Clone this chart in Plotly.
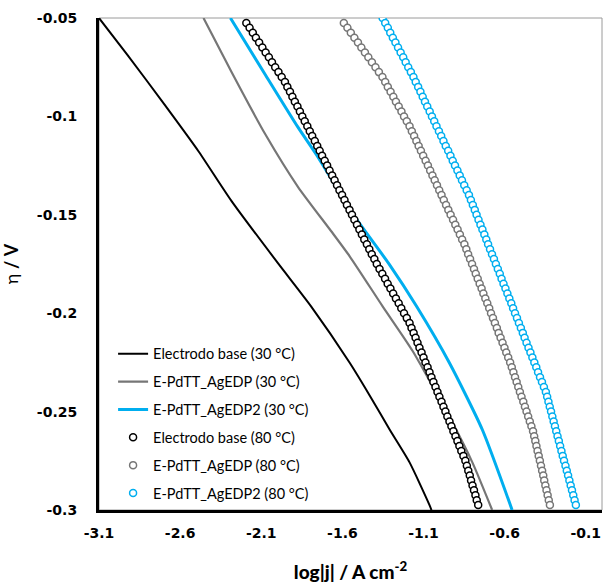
import plotly.graph_objects as go

# ---- data ----
# overpotential grid of the 80 °C measurements (V)
ETA_80 = [
    -0.05, -0.0525, -0.055, -0.0575, -0.06, -0.0625, -0.065, -0.0675, -0.07, -0.0725,
    -0.075, -0.0775, -0.08, -0.0825, -0.085, -0.0875, -0.09, -0.0925, -0.095, -0.0975,
    -0.1, -0.1025, -0.105, -0.1075, -0.11, -0.1125, -0.115, -0.1175, -0.12, -0.1225,
    -0.125, -0.1275, -0.13, -0.1325, -0.135, -0.1375, -0.14, -0.1425, -0.145, -0.1475,
    -0.15, -0.1525, -0.155, -0.1575, -0.16, -0.1625, -0.165, -0.1675, -0.17, -0.1725,
    -0.175, -0.1775, -0.18, -0.1825, -0.185, -0.1875, -0.19, -0.1925, -0.195, -0.1975,
    -0.2, -0.2025, -0.205, -0.2075, -0.21, -0.2125, -0.215, -0.2175, -0.22, -0.2225,
    -0.225, -0.2275, -0.23, -0.2325, -0.235, -0.2375, -0.24, -0.2425, -0.245, -0.2475,
    -0.25, -0.2525, -0.255, -0.2575, -0.26, -0.2625, -0.265, -0.2675, -0.27, -0.2725,
    -0.275, -0.2775, -0.28, -0.2825, -0.285, -0.2875, -0.29, -0.2925, -0.295, -0.2975,
]

# Electrodo base (80 °C): log|j| for ETA_80[1:]
BASE_80 = [
    -2.192, -2.172, -2.152, -2.133, -2.113, -2.093, -2.073, -2.053, -2.034, -2.014,
    -1.994, -1.974, -1.954, -1.939, -1.923, -1.908, -1.893, -1.877, -1.862, -1.847,
    -1.832, -1.816, -1.801, -1.786, -1.770, -1.755, -1.740, -1.725, -1.709, -1.694,
    -1.679, -1.663, -1.648, -1.633, -1.618, -1.602, -1.587, -1.572, -1.556, -1.541,
    -1.526, -1.510, -1.495, -1.480, -1.465, -1.449, -1.434, -1.419, -1.403, -1.388,
    -1.371, -1.354, -1.337, -1.321, -1.304, -1.287, -1.270, -1.253, -1.237, -1.220,
    -1.203, -1.186, -1.174, -1.161, -1.149, -1.137, -1.125, -1.112, -1.100, -1.088,
    -1.075, -1.063, -1.051, -1.039, -1.026, -1.014, -1.002, -0.989, -0.977, -0.965,
    -0.953, -0.940, -0.928, -0.916, -0.903, -0.891, -0.879, -0.867, -0.854, -0.842,
    -0.833, -0.824, -0.815, -0.807, -0.798, -0.789, -0.780, -0.772, -0.763,
]

# E-PdTT_AgEDP (80 °C): log|j| for ETA_80[1:]
EDP_80 = [
    -1.591, -1.569, -1.548, -1.526, -1.504, -1.483, -1.461, -1.440, -1.418, -1.396,
    -1.375, -1.353, -1.336, -1.320, -1.303, -1.286, -1.270, -1.253, -1.236, -1.220,
    -1.203, -1.186, -1.172, -1.158, -1.144, -1.130, -1.116, -1.102, -1.087, -1.073,
    -1.059, -1.045, -1.031, -1.017, -1.003, -0.989, -0.975, -0.961, -0.947, -0.933,
    -0.918, -0.904, -0.890, -0.876, -0.862, -0.848, -0.836, -0.825, -0.813, -0.801,
    -0.789, -0.778, -0.766, -0.754, -0.742, -0.731, -0.719, -0.707, -0.695, -0.684,
    -0.672, -0.660, -0.648, -0.637, -0.625, -0.613, -0.601, -0.590, -0.578, -0.566,
    -0.556, -0.546, -0.536, -0.526, -0.516, -0.506, -0.496, -0.485, -0.475, -0.465,
    -0.455, -0.445, -0.435, -0.425, -0.418, -0.411, -0.404, -0.397, -0.390, -0.383,
    -0.376, -0.369, -0.362, -0.356, -0.349, -0.342, -0.335, -0.328, -0.321,
]

# E-PdTT_AgEDP2 (80 °C): log|j| for ETA_80
EDP2_80 = [
    -1.352, -1.336, -1.320, -1.305, -1.289, -1.273, -1.257, -1.241, -1.225, -1.210,
    -1.194, -1.178, -1.162, -1.148, -1.133, -1.119, -1.105, -1.091, -1.077, -1.062,
    -1.048, -1.034, -1.020, -1.005, -0.991, -0.977, -0.963, -0.948, -0.934, -0.920,
    -0.906, -0.891, -0.877, -0.863, -0.849, -0.834, -0.820, -0.808, -0.796, -0.784,
    -0.773, -0.761, -0.749, -0.737, -0.725, -0.713, -0.702, -0.690, -0.678, -0.666,
    -0.654, -0.642, -0.630, -0.619, -0.607, -0.595, -0.583, -0.571, -0.559, -0.548,
    -0.536, -0.524, -0.512, -0.500, -0.488, -0.477, -0.465, -0.453, -0.441, -0.429,
    -0.417, -0.405, -0.394, -0.382, -0.370, -0.358, -0.346, -0.338, -0.330, -0.322,
    -0.314, -0.306, -0.298, -0.290, -0.282, -0.274, -0.266, -0.258, -0.250, -0.242,
    -0.234, -0.225, -0.217, -0.209, -0.201, -0.193, -0.185, -0.177, -0.169, -0.161,
]

# 30 °C curves (lines)
BASE_30_X = [-3.100, -2.925, -2.697, -2.487, -2.284, -1.996, -1.793, -1.554, -1.431, -1.309, -1.186, -1.063, -1.051]
BASE_30_Y = [-0.050, -0.0687, -0.0939, -0.1177, -0.1429, -0.1747, -0.1965, -0.2253, -0.2419, -0.2591, -0.2758, -0.2975, -0.300]

EDP_30_X = [-2.456, -2.284, -2.075, -1.873, -1.671, -1.554, -1.352, -1.167, -0.922, -0.799, -0.677]
EDP_30_Y = [-0.050, -0.0773, -0.1091, -0.1359, -0.1581, -0.1712, -0.1965, -0.2192, -0.2556, -0.2758, -0.300]

EDP2_30_X = [-2.290, -2.075, -1.873, -1.750, -1.536, -1.315, -1.143, -0.940, -0.738, -0.554]
EDP2_30_Y = [-0.050, -0.0788, -0.1056, -0.1207, -0.1495, -0.1747, -0.1965, -0.2253, -0.2591, -0.300]

X_TICKS = [-3.1, -2.6, -2.1, -1.6, -1.1, -0.6, -0.1]
X_TICK_TEXT = ["-3.1", "-2.6", "-2.1", "-1.6", "-1.1", "-0.6", "-0.1"]
Y_TICKS = [-0.05, -0.1, -0.15, -0.2, -0.25, -0.3]
Y_TICK_TEXT = ["-0.05", "-0.1", "-0.15", "-0.2", "-0.25", "-0.3"]

NAMES = [
    "Electrodo base (30 °C)", "E-PdTT_AgEDP (30 °C)", "E-PdTT_AgEDP2 (30 °C)",
    "Electrodo base (80 °C)", "E-PdTT_AgEDP (80 °C)", "E-PdTT_AgEDP2 (80 °C)",
]

BLACK = "#000000"
GRAY = "#767676"
BLUE = "#00aeef"
FONT = "Lato"
TICKFONT = "DejaVu Sans"

fig = go.Figure()

fig.add_trace(go.Scatter(x=BASE_30_X, y=BASE_30_Y, mode="lines", name=NAMES[0],
                         legendgroup="g0",
                         line=dict(color=BLACK, width=2, shape="spline", smoothing=0.6)))
fig.add_trace(go.Scatter(x=EDP_30_X, y=EDP_30_Y, mode="lines", name=NAMES[1],
                         legendgroup="g1",
                         line=dict(color=GRAY, width=2.2, shape="spline", smoothing=0.6)))
fig.add_trace(go.Scatter(x=EDP2_30_X, y=EDP2_30_Y, mode="lines", name=NAMES[2],
                         legendgroup="g2",
                         line=dict(color=BLUE, width=3, shape="spline", smoothing=0.6)))

for i, (xs, ys, col) in enumerate([
    (BASE_80, ETA_80[1:], BLACK),
    (EDP_80, ETA_80[1:], GRAY),
    (EDP2_80, ETA_80, BLUE),
]):
    fig.add_trace(go.Scatter(
        x=xs, y=ys, mode="markers", name=NAMES[3 + i], legendgroup=f"g{3 + i}",
        marker=dict(symbol="circle", size=7, color="white",
                    line=dict(color=col, width=1.5)),
    ))

fig.update_layout(
    width=605, height=583,
    margin=dict(l=99, r=3, t=18, b=70),
    paper_bgcolor="white", plot_bgcolor="white",
    font=dict(family=FONT, color="black"),
    showlegend=True,
    legend=dict(
        x=0.028, y=0.35, xanchor="left", yanchor="top",
        bgcolor="rgba(0,0,0,0)", borderwidth=0,
        font=dict(family=FONT, size=14.5, color="black"),
        tracegroupgap=6, itemwidth=30,
    ),
    xaxis=dict(
        range=[-3.1, 0], tickvals=X_TICKS, ticktext=X_TICK_TEXT,
        showgrid=False, zeroline=False, showline=True, linecolor="black", linewidth=3,
        ticks="", ticklabelstandoff=8,
        tickfont=dict(family=TICKFONT, size=14, weight="bold"),
        title=dict(text="log|j| / A cm<sup>-2</sup>", standoff=26,
                   font=dict(family=FONT, size=19, weight=900)),
    ),
    yaxis=dict(
        range=[-0.3, -0.05], tickvals=Y_TICKS, ticktext=Y_TICK_TEXT,
        showgrid=False, zeroline=False, showline=True, linecolor="black", linewidth=3,
        ticks="", ticklabelstandoff=16,
        tickfont=dict(family=TICKFONT, size=14, weight="bold"),
        title=dict(text="η <b>/ V</b>", standoff=18,
                   font=dict(family=FONT, size=18)),
    ),
    shapes=[dict(type="rect", xref="paper", yref="paper", x0=0, y0=0, x1=1, y1=1,
                 line=dict(color="#9a9a9a", width=1), layer="below")],
)

fig.write_html("out.html", config={"displayModeBar": False},
               post_script="document.body.style.margin='0';")
